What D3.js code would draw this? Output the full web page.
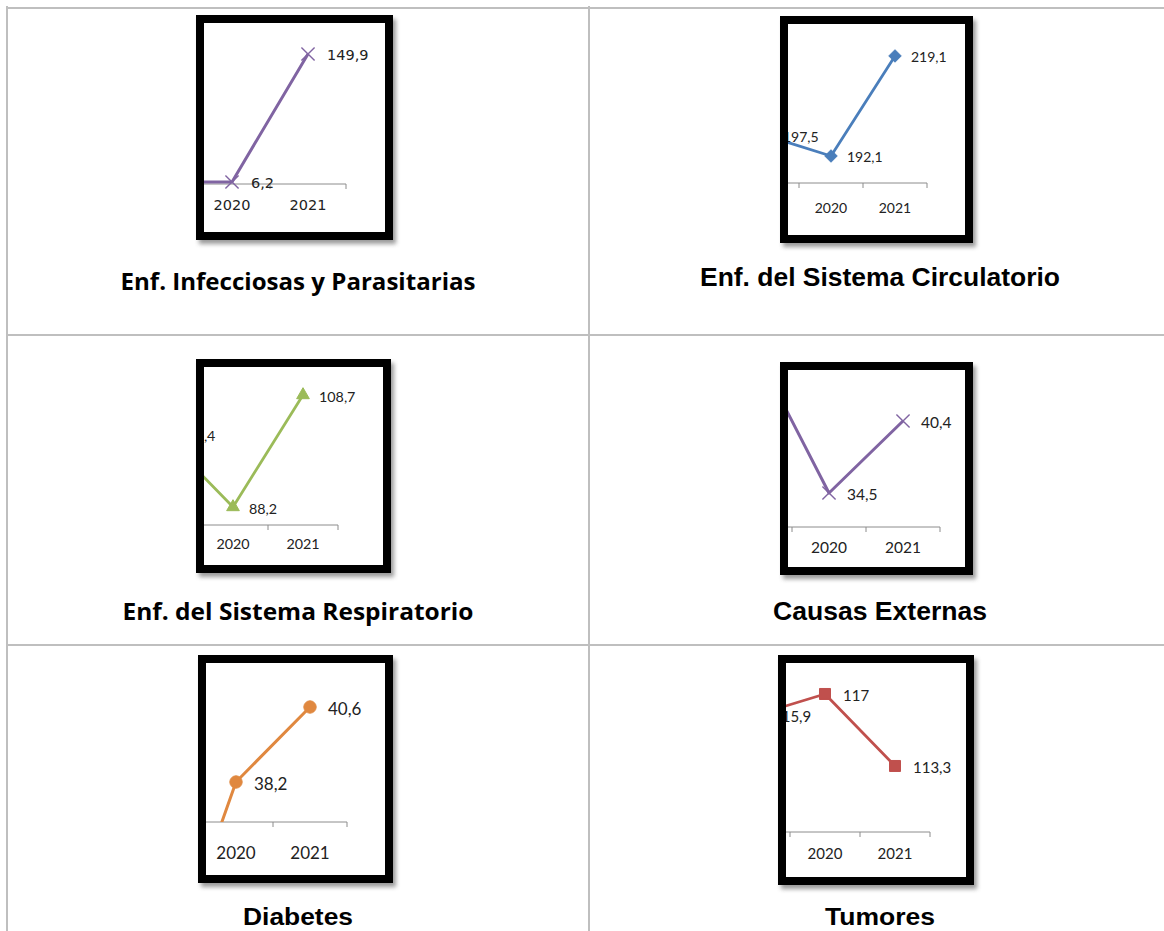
<!DOCTYPE html>
<html><head><meta charset="utf-8">
<script src="https://cdn.jsdelivr.net/npm/d3@7"></script>
<style>html,body{margin:0;padding:0;background:#fff;} svg{display:block;}</style>
</head><body><svg id="c" width="1164" height="931"></svg>
<script>
// ---------- data ----------
const categories = ["2019", "2020", "2021"];
const infecciosas  = [6.1, 6.2, 149.9];
const circulatorio = [197.5, 192.1, 219.1];
const respiratorio = [101.4, 88.2, 108.7];
const externas     = [46.3, 34.5, 40.4];
const diabetes     = [31.5, 38.2, 40.6];
const tumores      = [115.9, 117.0, 113.3];
const titles = ["Enf. Infecciosas y Parasitarias", "Enf. del Sistema Circulatorio",
                "Enf. del Sistema Respiratorio", "Causas Externas", "Diabetes", "Tumores"];
const seriesList = [infecciosas, circulatorio, respiratorio, externas, diabetes, tumores];

// ---------- layout / style (not data) ----------
const layout = [
  {frame:[196,15,393,240], xr:[118,346], yd:[0,160],   yr:[187.5,45],    axisY:184, tickY:205,
   color:"#8064A2", lw:3,   marker:"times",   msize:115, font:"DejaVu Sans", fs:14.5, off:19,
   title:{x:298,y:281,font:"Open Sans",fs:23,len:355}},
  {frame:[780,16,973,243], xr:[735,927], yd:[185,225], yr:[182.3,34.1],  axisY:183, tickY:207,
   color:"#4A7EBB", lw:2.8, marker:"diamond", msize:100, font:"Lato", fs:14, off:16,
   title:{x:880,y:277,font:"Liberation Sans",fs:25,len:360}},
  {frame:[196,359,391,573], xr:[128,338], yd:[85,115],  yr:[524.5,360.6], axisY:525, tickY:543,
   color:"#9BBB59", lw:2.8, marker:"triangle",msize:70,  font:"Lato", fs:14.3, off:16,
   title:{x:298,y:611,font:"Open Sans",fs:23,len:351}},
  {frame:[780,362,973,575], xr:[718,940], yd:[32,48],   yr:[523.5,328.3], axisY:527, tickY:547,
   color:"#8064A2", lw:3,   marker:"times",   msize:115, font:"Lato", fs:15.5, off:18,
   title:{x:880,y:611,font:"Liberation Sans",fs:25,len:214}},
  {frame:[198,655,393,883], xr:[125,347], yd:[37,42],   yr:[819.5,663.25],axisY:822, tickY:852,
   color:"#E0883F", lw:3,   marker:"circle",  msize:120, font:"Lato", fs:17, off:18,
   title:{x:298,y:917,font:"Liberation Sans",fs:23,len:110}},
  {frame:[778,655,974,885], xr:[720,930], yd:[110,120], yr:[830.2,635.6], axisY:832, tickY:853,
   color:"#C0504D", lw:2.8, marker:"square",  msize:121, font:"Lato", fs:15, off:18,
   title:{x:880,y:917,font:"Liberation Sans",fs:23,len:110}}
];

const svg = d3.select("#c");
const defs = svg.append("defs");
defs.append("filter").attr("id","blur").attr("x","-20%").attr("y","-20%").attr("width","140%").attr("height","140%")
  .append("feGaussianBlur").attr("stdDeviation", 2.2);

// ---------- table grid ----------
const grid = svg.append("g").attr("stroke","#BFBFBF").attr("stroke-width",2);
[[7,6,7,931],[589,6,589,931],[6,8,1164,8],[6,335,1164,335],[6,645,1164,645]].forEach(l=>{
  grid.append("line").attr("x1",l[0]).attr("y1",l[1]).attr("x2",l[2]).attr("y2",l[3]);
});

const fmt = v => (Number.isInteger(v) ? d3.format("d")(v) : d3.format(".1f")(v)).replace(".", ",");
const symbolTypes = {times:d3.symbolTimes, diamond:d3.symbolDiamond2, triangle:d3.symbolTriangle,
                     circle:d3.symbolCircle, square:d3.symbolSquare};
const BW = 8;

layout.forEach((L, i) => {
  const data = seriesList[i];
  const [fx1, fy1, fx2, fy2] = L.frame;
  const ix1 = fx1 + BW, iy1 = fy1 + BW, ix2 = fx2 - BW, iy2 = fy2 - BW;
  const g = svg.append("g");

  // shadow
  g.append("rect").attr("x", fx1 + 3).attr("y", fy1 + 4).attr("width", fx2 - fx1).attr("height", fy2 - fy1)
    .attr("fill", "#7a7a7a").attr("opacity", 0.75).attr("filter", "url(#blur)");
  g.append("rect").attr("x", fx1).attr("y", fy1).attr("width", fx2 - fx1).attr("height", fy2 - fy1).attr("fill", "#fff");

  defs.append("clipPath").attr("id", "in" + i).append("rect")
    .attr("x", ix1).attr("y", iy1).attr("width", ix2 - ix1).attr("height", iy2 - iy1);
  defs.append("clipPath").attr("id", "pl" + i).append("rect")
    .attr("x", ix1).attr("y", iy1).attr("width", ix2 - ix1).attr("height", L.axisY - iy1);

  const x = d3.scaleBand().domain(categories).range(L.xr).padding(0);
  const y = d3.scaleLinear().domain(L.yd).range(L.yr);
  const cx = c => x(c) + x.bandwidth() / 2;

  const inner = g.append("g").attr("clip-path", "url(#in" + i + ")");

  // axis
  const ax = inner.append("g").attr("stroke", "#8C8C8C").attr("stroke-width", 1);
  ax.append("line").attr("x1", ix1).attr("x2", L.xr[1]).attr("y1", L.axisY).attr("y2", L.axisY);
  const bounds = categories.map(c => x(c)).concat([L.xr[1]]);
  ax.selectAll(".tk").data(bounds).join("line")
    .attr("x1", d => d).attr("x2", d => d).attr("y1", L.axisY).attr("y2", L.axisY + 5);
  inner.selectAll(".cat").data(categories.filter(c => cx(c) > ix1)).join("text")
    .attr("x", d => cx(d)).attr("y", L.tickY).attr("text-anchor", "middle").attr("dominant-baseline", "central")
    .attr("font-family", L.font).attr("font-size", L.fs).attr("fill", "#222").text(d => d);

  // line
  const pts = categories.map((c, k) => ({c, v: data[k]}));
  inner.append("g").attr("clip-path", "url(#pl" + i + ")").append("path")
    .attr("d", d3.line().x(d => cx(d.c)).y(d => y(d.v))(pts))
    .attr("fill", "none").attr("stroke", L.color).attr("stroke-width", L.lw).attr("stroke-linejoin", "round");

  // markers
  const sym = d3.symbol().type(symbolTypes[L.marker]).size(L.msize);
  inner.selectAll(".mk").data(pts).join("path")
    .attr("transform", d => `translate(${cx(d.c)},${y(d.v)})`)
    .attr("d", sym)
    .attr("fill", L.marker === "times" ? "none" : L.color)
    .attr("stroke", L.color).attr("stroke-width", L.marker === "times" ? 1.4 : 1);

  // labels (only those that fall inside the visible plot window)
  inner.selectAll(".lb").data(pts.filter(d => y(d.v) > iy1 && y(d.v) < iy2)).join("text")
    .attr("x", d => cx(d.c) + L.off).attr("y", d => y(d.v) + 1).attr("dominant-baseline", "central")
    .attr("font-family", L.font).attr("font-size", L.fs).attr("fill", "#222").text(d => fmt(d.v));

  // frame
  g.append("rect").attr("x", fx1 + BW / 2).attr("y", fy1 + BW / 2)
    .attr("width", fx2 - fx1 - BW).attr("height", fy2 - fy1 - BW)
    .attr("fill", "none").attr("stroke", "#000").attr("stroke-width", BW);

  // title
  svg.append("text").attr("x", L.title.x).attr("y", L.title.y).attr("text-anchor", "middle")
    .attr("dominant-baseline", "central").attr("font-family", L.title.font).attr("font-weight", "bold")
    .attr("font-size", L.title.fs).attr("fill", "#000")
    .attr("textLength", L.title.len).attr("lengthAdjust", "spacingAndGlyphs").text(titles[i]);
});
</script></body></html>
